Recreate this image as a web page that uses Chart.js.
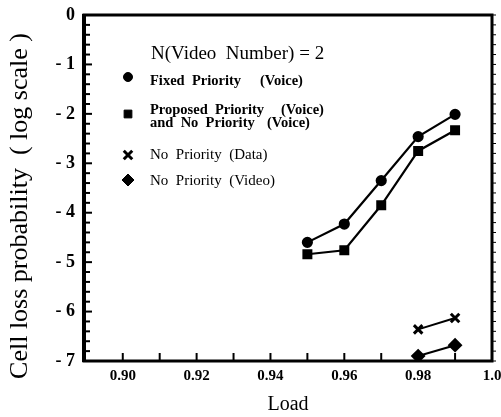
<!DOCTYPE html>
<html>
<head>
<meta charset="utf-8">
<script src="https://cdn.jsdelivr.net/npm/chart.js@4"></script>
<style>
  html, body { margin: 0; padding: 0; background: #fff; }
  #wrap { width: 501px; height: 417px; }
</style>
</head>
<body>
<div id="wrap"><canvas id="chart" width="501" height="417"></canvas></div>
<script>
// Daten
var loadWerte = [0.95, 0.96, 0.97, 0.98, 0.99];
var fixedVoice = [-4.6, -4.23, -3.35, -2.46, -2.01];
var proposedVoice = [-4.84, -4.76, -3.85, -2.75, -2.33];
var loadHoch = [0.98, 0.99];
var noPrioData = [-6.36, -6.13];
var noPrioVideo = [-6.9, -6.68];

var xTicks = [0.90, 0.91, 0.92, 0.93, 0.94, 0.95, 0.96, 0.97, 0.98, 0.99, 1.0];
var xLabels = ["0.90", "", "0.92", "", "0.94", "", "0.96", "", "0.98", "", "1.0"];
var yTicks = [0, -1, -2, -3, -4, -5, -6, -7];
var yLabels = ["0", "- 1", "- 2", "- 3", "- 4", "- 5", "- 6", "- 7"];
var yTitel = "Cell loss probability  ( log scale )";

var serif = "'Liberation Serif', 'DejaVu Serif', serif";

function punkte(xs, ys) {
  return xs.map(function (x, i) { return { x: x, y: ys[i] }; });
}

// Rahmen, Ticks nach innen und Legende
var rahmenPlugin = {
  id: "rahmen",
  afterDraw: function (chart) {
    var ctx = chart.ctx;
    var a = chart.chartArea;
    var xs = chart.scales.x, ys = chart.scales.y;
    ctx.save();
    ctx.strokeStyle = "#000";
    ctx.lineWidth = 3;
    ctx.strokeRect(a.left, a.top, a.right - a.left, a.bottom - a.top);
    ctx.lineWidth = 4;
    ctx.beginPath();
    ctx.moveTo(a.left, a.top - 1);
    ctx.lineTo(a.left, a.bottom + 1);
    ctx.stroke();

    // x ticks
    ctx.lineWidth = 2;
    xTicks.forEach(function (v) {
      var px = xs.getPixelForValue(v);
      ctx.beginPath();
      ctx.moveTo(px, a.bottom);
      ctx.lineTo(px, a.bottom - 8);
      ctx.stroke();
    });
    // y ticks, kleine alle 0.2
    for (var k = 0; k <= 35; k++) {
      var v = -k * 0.2;
      var py = ys.getPixelForValue(v);
      var lang = (k % 5 === 0) ? 8 : 6;
      ctx.lineWidth = 2;
      ctx.beginPath();
      ctx.moveTo(a.left, py);
      ctx.lineTo(a.left + lang, py);
      ctx.stroke();
      ctx.lineWidth = 1;
      ctx.beginPath();
      ctx.moveTo(a.right + 1, py);
      ctx.lineTo(a.right + 4, py);
      ctx.stroke();
    }

    // y Achsentitel
    ctx.fillStyle = "#000";
    ctx.save();
    ctx.translate(20, 206);
    ctx.rotate(-Math.PI / 2);
    ctx.textAlign = "center";
    ctx.textBaseline = "middle";
    ctx.font = "26px " + serif;
    ctx.fillText(yTitel, 0, 0);
    ctx.restore();

    // Legende
    ctx.textBaseline = "middle";
    ctx.textAlign = "left";
    ctx.font = "19px " + serif;
    ctx.fillText("N(Video  Number) = 2", 151, 54);

    var h = Chart.helpers;
    ctx.strokeStyle = "#000";
    ctx.fillStyle = "#000";
    ctx.lineWidth = 1;
    h.drawPoint(ctx, { pointStyle: "circle", radius: 4.5, borderWidth: 1, rotation: 0 }, 128, 77);
    h.drawPoint(ctx, { pointStyle: "rect", radius: 5.5, borderWidth: 1, rotation: 0 }, 128, 114);
    ctx.lineWidth = 3;
    h.drawPoint(ctx, { pointStyle: "crossRot", radius: 6, borderWidth: 3, rotation: 0 }, 128, 155);
    ctx.lineWidth = 1;
    h.drawPoint(ctx, { pointStyle: "rectRot", radius: 6, borderWidth: 1, rotation: 0 }, 128, 180);

    ctx.fillStyle = "#000";
    ctx.font = "bold 14.5px " + serif;
    ctx.fillText("Fixed  Priority", 150, 81);
    ctx.fillText("(Voice)", 260, 81);
    ctx.fillText("Proposed  Priority", 150, 110);
    ctx.fillText("(Voice)", 281, 110);
    ctx.fillText("and  No  Priority", 150, 123);
    ctx.fillText("(Voice)", 267, 123);
    ctx.font = "15px " + serif;
    ctx.fillText("No  Priority  (Data)", 150, 155);
    ctx.fillText("No  Priority  (Video)", 150, 181);
    ctx.restore();
  }
};

var ctx = document.getElementById("chart").getContext("2d");
var diagramm = new Chart(ctx, {
  type: "line",
  data: {
    datasets: [
      {
        label: "Fixed Priority (Voice)",
        data: punkte(loadWerte, fixedVoice),
        borderColor: "#000",
        backgroundColor: "#000",
        borderWidth: 2.2,
        pointStyle: "circle",
        pointRadius: 4.5,
      },
      {
        label: "Proposed Priority (Voice) and No Priority (Voice)",
        data: punkte(loadWerte, proposedVoice),
        borderColor: "#000",
        backgroundColor: "#000",
        borderWidth: 2.2,
        pointStyle: "rect",
        pointRadius: 5.5,
      },
      {
        label: "No Priority (Data)",
        data: punkte(loadHoch, noPrioData),
        borderColor: "#000",
        backgroundColor: "#000",
        borderWidth: 2,
        pointStyle: "crossRot",
        pointRadius: 6,
        pointBorderWidth: 3,
      },
      {
        label: "No Priority (Video)",
        data: punkte(loadHoch, noPrioVideo),
        borderColor: "#000",
        backgroundColor: "#000",
        borderWidth: 2,
        pointStyle: "rectRot",
        pointRadius: 6,
      },
    ],
  },
  options: {
    responsive: false,
    animation: false,
    layout: {
      padding: { top: 15, right: 7, left: 0, bottom: 0 },
    },
    plugins: {
      legend: { display: false },
      tooltip: { enabled: false },
    },
    scales: {
      x: {
        type: "linear",
        min: 0.8895,
        max: 1.0,
        afterBuildTicks: function (scale) {
          scale.ticks = xTicks.map(function (v) { return { value: v }; });
        },
        afterFit: function (scale) {
          scale.height = 56;
          scale.paddingLeft = 0;
          scale.paddingRight = 0;
        },
        grid: { display: false, drawTicks: false },
        border: { display: false },
        ticks: {
          autoSkip: false,
          maxRotation: 0,
          padding: 6,
          color: "#000",
          font: { family: serif, size: 15, weight: "bold" },
          callback: function (value, index) {
            return xLabels[index];
          },
        },
        title: {
          display: true,
          text: "Load",
          color: "#000",
          font: { family: serif, size: 20 },
          padding: { top: 8, bottom: 0 },
        },
      },
      y: {
        type: "linear",
        min: -7,
        max: 0,
        afterBuildTicks: function (scale) {
          scale.ticks = yTicks.map(function (v) { return { value: v }; });
        },
        afterFit: function (scale) {
          scale.width = 84;
          scale.paddingTop = 0;
          scale.paddingBottom = 0;
        },
        grid: { display: false, drawTicks: false },
        border: { display: false },
        ticks: {
          autoSkip: false,
          padding: 9,
          color: "#000",
          font: { family: serif, size: 18, weight: "bold" },
          callback: function (value, index) {
            return yLabels[index];
          },
        },
      },
    },
  },
  plugins: [rahmenPlugin],
});
</script>
</body>
</html>
